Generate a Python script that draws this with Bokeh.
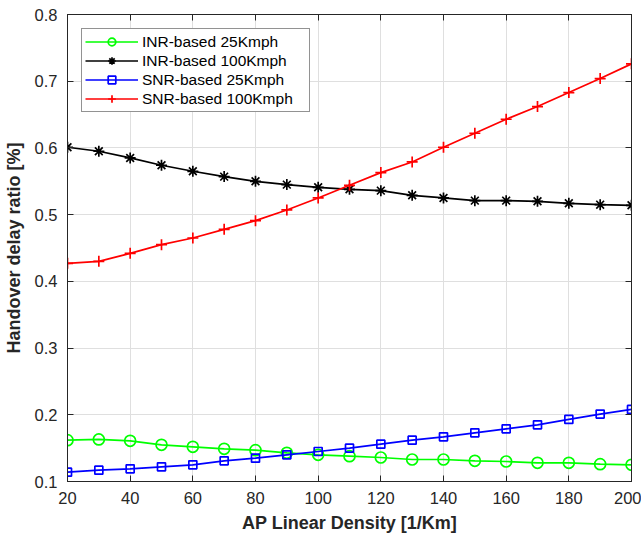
from bokeh.plotting import figure
from bokeh.models import LinearAxis, FixedTicker, Legend, LegendItem, Range1d
from bokeh.embed import file_html
from bokeh.resources import INLINE

density = [20, 30, 40, 50, 60, 70, 80, 90, 100, 110, 120, 130, 140, 150, 160, 170, 180, 190, 200]
inr_25 = [0.162, 0.163, 0.161, 0.155, 0.152, 0.149, 0.147, 0.143, 0.140, 0.138, 0.136, 0.133, 0.133, 0.131, 0.130, 0.128, 0.128, 0.126, 0.125]
inr_100 = [0.601, 0.595, 0.585, 0.574, 0.565, 0.557, 0.550, 0.545, 0.541, 0.538, 0.536, 0.529, 0.525, 0.521, 0.521, 0.520, 0.517, 0.515, 0.514]
snr_25 = [0.114, 0.117, 0.119, 0.122, 0.125, 0.131, 0.135, 0.140, 0.145, 0.150, 0.156, 0.162, 0.167, 0.173, 0.179, 0.185, 0.193, 0.201, 0.208]
snr_100 = [0.427, 0.430, 0.442, 0.455, 0.465, 0.478, 0.491, 0.507, 0.525, 0.544, 0.563, 0.579, 0.601, 0.622, 0.643, 0.662, 0.683, 0.704, 0.726]

x_ticks = [20, 40, 60, 80, 100, 120, 140, 160, 180, 200]
y_ticks = [0.1, 0.2, 0.3, 0.4, 0.5, 0.6, 0.7, 0.8]

FONT = "Liberation Sans"
AX = "#262626"

p = figure(frame_width=564, frame_height=467, x_range=Range1d(20, 200), y_range=Range1d(0.1, 0.8),
           output_backend="svg", toolbar_location=None,
           min_border_left=63, min_border_right=10, min_border_top=14, min_border_bottom=48)
p.background_fill_color = "white"
p.border_fill_color = "white"
p.outline_line_color = AX
p.outline_line_width = 1

for ax in [p.xaxis[0], p.yaxis[0]]:
    ax.major_label_text_font = FONT
    ax.major_label_text_font_size = "16.5px"
    ax.major_label_text_color = AX
    ax.axis_label_text_font = FONT
    ax.axis_label_text_font_size = "18px"
    ax.axis_label_text_font_style = "bold"
    ax.axis_label_text_color = AX
    ax.axis_line_color = AX
    ax.major_tick_line_color = AX
    ax.major_tick_in = 6
    ax.major_tick_out = 0
    ax.minor_tick_line_color = None

p.xaxis[0].ticker = FixedTicker(ticks=x_ticks)
p.yaxis[0].ticker = FixedTicker(ticks=y_ticks)
p.xaxis[0].axis_label = "AP Linear Density [1/Km]"
p.yaxis[0].axis_label = "Handover delay ratio [%]"
p.xaxis[0].major_label_standoff = 10
p.xaxis[0].axis_label_standoff = 6
p.yaxis[0].major_label_standoff = 10
p.yaxis[0].axis_label_standoff = 8

for side, ticks in [("above", x_ticks), ("right", y_ticks)]:
    a = LinearAxis(ticker=FixedTicker(ticks=ticks))
    a.major_label_text_color = None
    a.major_label_text_font_size = "1px"
    a.major_label_standoff = 0
    a.axis_line_color = AX
    a.major_tick_line_color = AX
    a.major_tick_in = 6
    a.major_tick_out = 0
    a.minor_tick_line_color = None
    p.add_layout(a, side)

p.xgrid.ticker = FixedTicker(ticks=x_ticks)
p.ygrid.ticker = FixedTicker(ticks=y_ticks)
p.grid.grid_line_color = "#dfdfdf"
p.grid.grid_line_width = 1

LW = 1.7
series = [
    ("INR-based 25Kmph", inr_25, "#00ff00", "circle", 11),
    ("INR-based 100Kmph", inr_100, "black", "asterisk", 11),
    ("SNR-based 25Kmph", snr_25, "#0000ff", "square", 8),
    ("SNR-based 100Kmph", snr_100, "#ff0000", "cross", 11),
]
items = []
for label, ys, color, marker, size in series:
    lr = p.line(density, ys, line_color=color, line_width=LW)
    sr = p.scatter(density, ys, marker=marker, size=size, line_color=color,
                   fill_color=None, line_width=LW)
    items.append(LegendItem(label=label, renderers=[lr, sr]))

legend = Legend(items=items, location="top_left")
legend.margin = 14
legend.padding = 3
legend.spacing = 0
legend.glyph_width = 53
legend.glyph_height = 19
legend.label_height = 19
legend.label_width = 164
legend.label_standoff = 4
legend.label_text_font = FONT
legend.label_text_font_size = "15.5px"
legend.label_text_color = "black"
legend.border_line_color = AX
legend.border_line_width = 1
legend.background_fill_color = "white"
legend.background_fill_alpha = 1
p.add_layout(legend)

open("out.html", "w").write(file_html(p, INLINE))
